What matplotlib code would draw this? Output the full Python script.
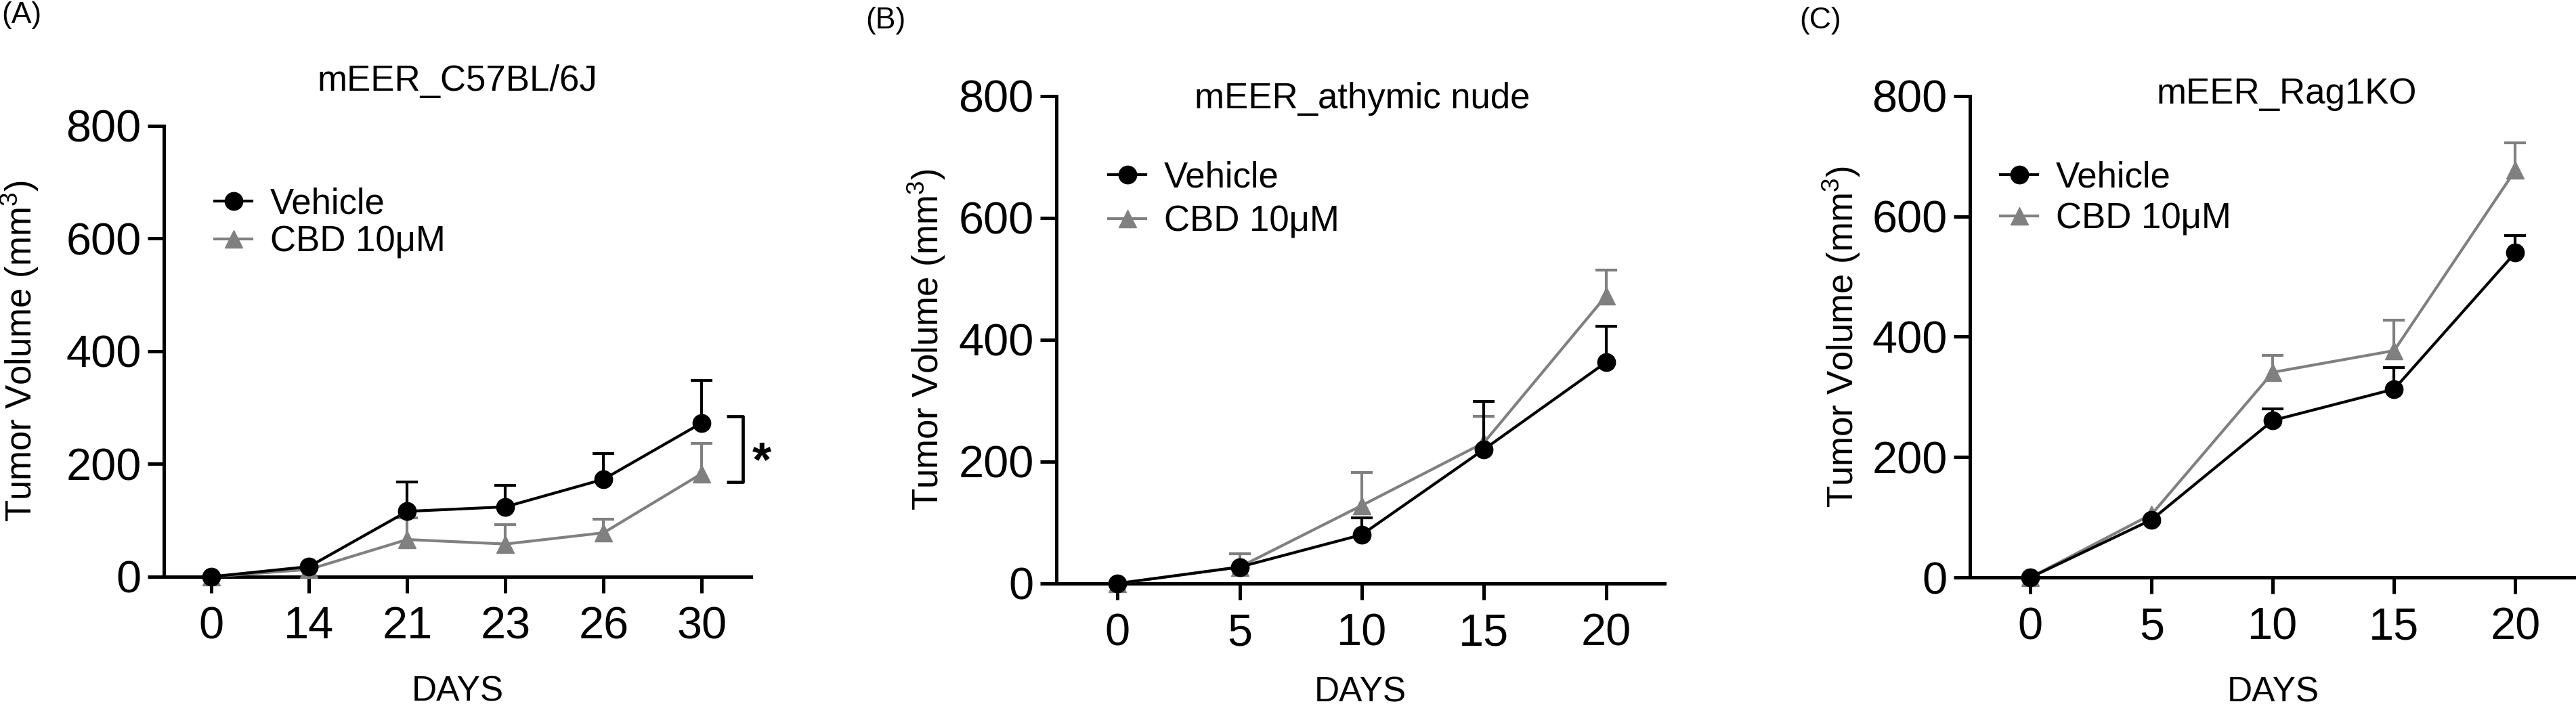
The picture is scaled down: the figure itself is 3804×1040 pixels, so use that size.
import numpy as np
import matplotlib
matplotlib.use("Agg")
import matplotlib.pyplot as plt

plt.rcParams["font.family"] = ["Liberation Sans", "DejaVu Sans"]
plt.rcParams["mathtext.fontset"] = "custom"
plt.rcParams["mathtext.rm"] = "Liberation Sans"
plt.rcParams["mathtext.it"] = "Liberation Sans:italic"
plt.rcParams["mathtext.bf"] = "Liberation Sans:bold"

# === data (mean and upper SEM) ===
days_a = ["0", "14", "21", "23", "26", "30"]
veh_a = [0, 18, 116, 124, 173, 273]
veh_a_sem = [0, 0, 52, 38, 46, 75]
cbd_a = [0, 13, 66, 58, 78, 183]
cbd_a_sem = [0, 0, 38, 34, 24, 54]
bracket_a = [285, 168]          # significance bracket, vehicle vs CBD at day 30

days_b = [0, 5, 10, 15, 20]
veh_b = [0, 27, 80, 220, 363]
veh_b_sem = [0, 0, 28, 79, 59]
cbd_b = [0, 27, 128, 231, 472]
cbd_b_sem = [0, 22, 54, 43, 42]

days_c = [0, 5, 10, 15, 20]
veh_c = [0, 96, 261, 313, 540]
veh_c_sem = [0, 0, 19, 36, 28]
cbd_c = [0, 105, 341, 377, 677]
cbd_c_sem = [0, 0, 28, 51, 45]

y_ticks = [0, 200, 400, 600, 800]
x_ticks_bc = [0, 5, 10, 15, 20]
titles = ["mEER_C57BL/6J", "mEER_athymic nude", "mEER_Rag1KO"]
labels = ["Vehicle", "CBD 10μM"]

GREY = "#808080"
LW = 3.0
SPINE = 3.6


def draw_series(ax, x, y, sem, color, marker, z):
    x = np.asarray(x, float)
    y = np.asarray(y, float)
    sem = np.asarray(sem, float)
    keep = sem > 0
    top = y + sem
    ax.vlines(x[keep], y[keep], top[keep], color=color, lw=LW, zorder=z, clip_on=False)
    ax.plot(x[keep], top[keep], ls="none", marker="_", ms=23, mew=LW,
            color=color, zorder=z, clip_on=False)
    line, = ax.plot(x, y, color=color, lw=LW, marker=marker, ms=19,
                    zorder=z + 0.5, clip_on=False)
    return line


def style_axes(ax, xlabel_y):
    for s in ["top", "right"]:
        ax.spines[s].set_visible(False)
    for s in ["left", "bottom"]:
        ax.spines[s].set_linewidth(SPINE)
    ax.tick_params(width=SPINE, length=17, labelsize=48)
    ax.tick_params(axis="y", pad=7)
    ax.tick_params(axis="x", pad=14)
    ax.set_ylim(0, 800)
    ax.set_yticks(y_ticks)
    ax.set_xlabel("DAYS", fontsize=37)
    ax.xaxis.set_label_coords(0.5, xlabel_y)


fig = plt.figure(figsize=(38.04, 10.4), dpi=100)

ax_a = fig.add_axes([0.0636, 0.1808, 0.2279, 0.6404])
ax_b = fig.add_axes([0.4101, 0.1712, 0.2361, 0.6923])
ax_c = fig.add_axes([0.7647, 0.1798, 0.2353, 0.6837])

# --- (A) ---
xa = np.arange(len(days_a))
hc = draw_series(ax_a, xa, cbd_a, cbd_a_sem, GREY, "^", 3)
hv = draw_series(ax_a, xa, veh_a, veh_a_sem, "black", "o", 4)
style_axes(ax_a, -0.219)
ax_a.set_xlim(-0.48, len(days_a) - 0.5)
ax_a.set_xticks(xa)
ax_a.set_xticklabels(days_a)
ax_a.set_ylabel("Tumor Volume (mm$^3$)", fontsize=38, labelpad=27)
ax_a.text(0.5, 1.078, titles[0], transform=ax_a.transAxes, ha="center",
          va="baseline", fontsize=38)
ax_a.legend([hv, hc], labels, loc="center left", bbox_to_anchor=(0.0865, 0.784),
            frameon=False, fontsize=38, handlelength=1.05, handletextpad=0.5,
            labelspacing=0.11, borderpad=0, borderaxespad=0)
xb = xa[-1] + 0.42
ax_a.plot([xb - 0.17, xb, xb, xb - 0.17],
          [bracket_a[0], bracket_a[0], bracket_a[1], bracket_a[1]],
          color="black", lw=3.4, clip_on=False, solid_capstyle="butt")
ax_a.annotate("*", xy=(xb, np.mean(bracket_a)), xytext=(20, -15),
              textcoords="offset points", ha="center", va="center",
              fontsize=52, fontweight="bold")

# --- (B) ---
hc = draw_series(ax_b, days_b, cbd_b, cbd_b_sem, GREY, "^", 3)
hv = draw_series(ax_b, days_b, veh_b, veh_b_sem, "black", "o", 4)
style_axes(ax_b, -0.189)
ax_b.set_xlim(-2.5, 22.4)
ax_b.set_xticks(x_ticks_bc)
ax_b.set_ylabel("Tumor Volume (mm$^3$)", fontsize=38, labelpad=12)
ax_b.text(0.503, 0.975, titles[1], transform=ax_b.transAxes, ha="center",
          va="baseline", fontsize=38)
ax_b.legend([hv, hc], labels, loc="center left", bbox_to_anchor=(0.0857, 0.7875),
            frameon=False, fontsize=38, handlelength=1.05, handletextpad=0.5,
            labelspacing=0.27, borderpad=0, borderaxespad=0)

# --- (C) ---
hc = draw_series(ax_c, days_c, cbd_c, cbd_c_sem, GREY, "^", 3)
hv = draw_series(ax_c, days_c, veh_c, veh_c_sem, "black", "o", 4)
style_axes(ax_c, -0.204)
ax_c.set_xlim(-2.5, 22.5)
ax_c.set_xticks(x_ticks_bc)
ax_c.set_ylabel("Tumor Volume (mm$^3$)", fontsize=38, labelpad=10)
ax_c.text(0.523, 0.9845, titles[2], transform=ax_c.transAxes, ha="center",
          va="baseline", fontsize=38)
ax_c.legend([hv, hc], labels, loc="center left", bbox_to_anchor=(0.0503, 0.787),
            frameon=False, fontsize=38, handlelength=1.05, handletextpad=0.5,
            labelspacing=0.21, borderpad=0, borderaxespad=0)

# panel letters
fig.text(0.0005, 0.998, "(A)", ha="left", va="top", fontsize=32)
fig.text(0.336, 0.99, "(B)", ha="left", va="top", fontsize=32)
fig.text(0.6985, 0.99, "(C)", ha="left", va="top", fontsize=32)

fig.savefig("out.png", dpi=100)
